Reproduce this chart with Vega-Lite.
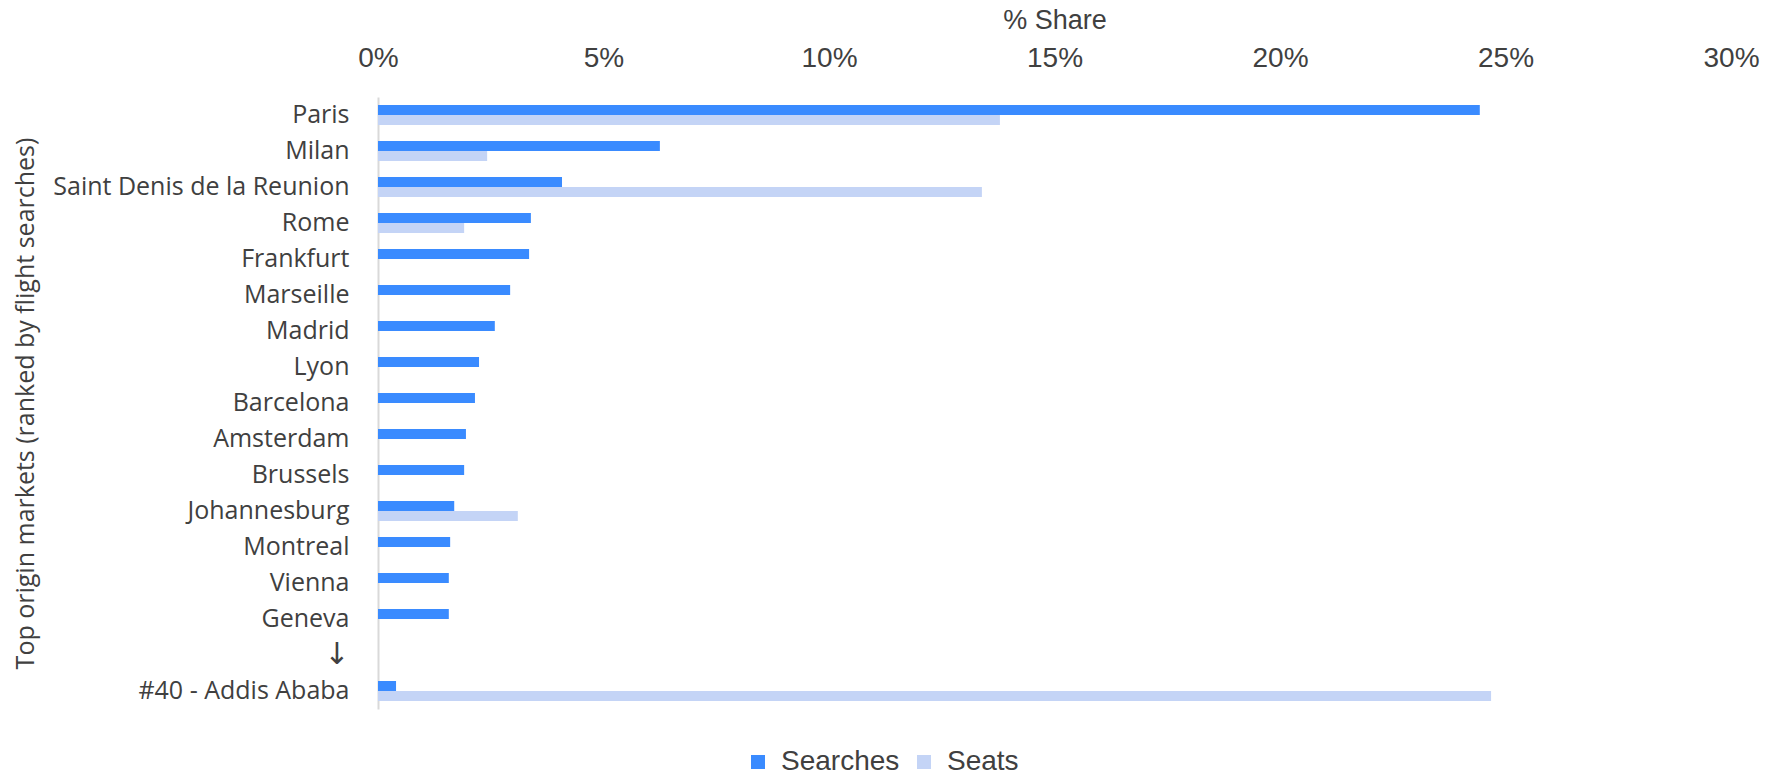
{
  "$schema": "https://vega.github.io/schema/vega-lite/v6.json",
  "width": 1353,
  "height": 612,
  "autosize": {"type": "none"},
  "padding": {"left": 378, "top": 97, "right": 34, "bottom": 67},
  "background": "white",
  "config": {"view": {"stroke": null}},
  "data": {
    "values": [
      {"market": "Paris", "series": "Searches", "share": 0.2443},
      {"market": "Paris", "series": "Seats", "share": 0.1379},
      {"market": "Milan", "series": "Searches", "share": 0.0625},
      {"market": "Milan", "series": "Seats", "share": 0.0242},
      {"market": "Saint Denis de la Reunion", "series": "Searches", "share": 0.0408},
      {"market": "Saint Denis de la Reunion", "series": "Seats", "share": 0.1339},
      {"market": "Rome", "series": "Searches", "share": 0.0339},
      {"market": "Rome", "series": "Seats", "share": 0.0191},
      {"market": "Frankfurt", "series": "Searches", "share": 0.0335},
      {"market": "Marseille", "series": "Searches", "share": 0.0293},
      {"market": "Madrid", "series": "Searches", "share": 0.0259},
      {"market": "Lyon", "series": "Searches", "share": 0.0224},
      {"market": "Barcelona", "series": "Searches", "share": 0.0215},
      {"market": "Amsterdam", "series": "Searches", "share": 0.0195},
      {"market": "Brussels", "series": "Searches", "share": 0.0191},
      {"market": "Johannesburg", "series": "Searches", "share": 0.0169},
      {"market": "Johannesburg", "series": "Seats", "share": 0.031},
      {"market": "Montreal", "series": "Searches", "share": 0.016},
      {"market": "Vienna", "series": "Searches", "share": 0.0157},
      {"market": "Geneva", "series": "Searches", "share": 0.0157},
      {"market": "#40 - Addis Ababa", "series": "Searches", "share": 0.004},
      {"market": "#40 - Addis Ababa", "series": "Seats", "share": 0.2468}
    ]
  },
  "mark": {"type": "bar", "cornerRadius": 0},
  "encoding": {
    "y": {
      "field": "market",
      "type": "nominal",
      "scale": {
        "domain": ["Paris", "Milan", "Saint Denis de la Reunion", "Rome", "Frankfurt", "Marseille", "Madrid", "Lyon", "Barcelona", "Amsterdam", "Brussels", "Johannesburg", "Montreal", "Vienna", "Geneva", "↓", "#40 - Addis Ababa"],
        "paddingInner": 0.444,
        "paddingOuter": 0.222
      },
      "axis": {
        "title": "Top origin markets (ranked by flight searches)",
        "titleFont": "Open Sans",
        "titleFontSize": 25,
        "titleFontWeight": "normal",
        "titleColor": "#404040",
        "titleAngle": 270,
        "titleX": -353,
        "titleY": 306,
        "titleAlign": "center",
        "titleBaseline": "middle",
        "labelFont": {"condition": {"test": "datum.value === '↓'", "value": "DejaVu Sans"}, "value": "Open Sans"},
        "labelFontSize": {"condition": {"test": "datum.value === '↓'", "value": 30}, "value": 25},
        "labelColor": "#404040",
        "labelPadding": 29,
        "labelLimit": 500,
        "ticks": false,
        "domain": true,
        "domainColor": "#d9d9d9",
        "domainWidth": 2,
        "grid": false
      }
    },
    "yOffset": {
      "field": "series",
      "type": "nominal",
      "scale": {"domain": ["Searches", "Seats"], "paddingInner": 0, "paddingOuter": 0}
    },
    "x": {
      "field": "share",
      "type": "quantitative",
      "scale": {"domain": [0, 0.3], "nice": false},
      "axis": {
        "orient": "top",
        "title": "% Share",
        "titleFont": "Liberation Sans",
        "titleFontSize": 27,
        "titleFontWeight": "normal",
        "titleColor": "#404040",
        "titlePadding": 10,
        "values": [0, 0.05, 0.1, 0.15, 0.2, 0.25, 0.3],
        "format": ".0%",
        "labelFont": "Liberation Sans",
        "labelFontSize": 28,
        "labelColor": "#404040",
        "labelPadding": 25,
        "labelFlush": false,
        "ticks": false,
        "domain": false,
        "grid": false
      }
    },
    "color": {
      "field": "series",
      "type": "nominal",
      "scale": {"domain": ["Searches", "Seats"], "range": ["#3a8bff", "#c4d4f6"]},
      "legend": {
        "title": null,
        "orient": "none",
        "legendX": 366,
        "legendY": 651,
        "direction": "horizontal",
        "symbolType": "square",
        "symbolSize": 196,
        "symbolStrokeWidth": 0,
        "labelFont": "Liberation Sans",
        "labelFontSize": 28,
        "labelColor": "#404040",
        "labelOffset": 9,
        "columnPadding": 10
      }
    }
  }
}
